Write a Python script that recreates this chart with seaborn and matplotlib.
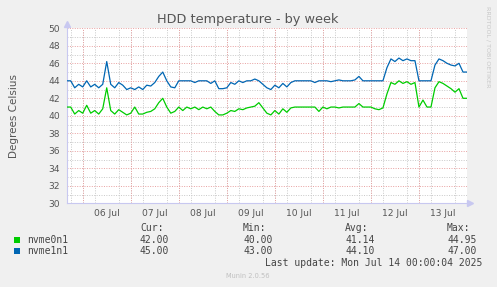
import numpy as np
import pandas as pd
import matplotlib
matplotlib.use("Agg")
import matplotlib.pyplot as plt
import matplotlib.dates as mdates
from matplotlib.patches import Rectangle
import seaborn as sns

# ---------------- data ----------------
series_names = ["nvme0n1", "nvme1n1"]
series_colors = ["#00CC00", "#0066B3"]

nvme0n1 = [41, 41, 40.2, 40.6, 40.3, 41.2, 40.3, 40.6, 40.2, 40.8,
           43.2, 40.6, 40.2, 40.7, 40.4, 40.1, 40.3, 41.0, 40.2, 40.2,
           40.4, 40.5, 40.8, 41.5, 42.0, 41.0, 40.3, 40.5, 41.0, 40.6,
           41.0, 40.8, 41.0, 40.7, 41.0, 40.8, 41.0, 40.5, 40.1, 40.1,
           40.3, 40.6, 40.5, 40.8, 40.7, 40.9, 41.0, 41.1, 41.5, 40.9,
           40.3, 40.1, 40.6, 40.2, 40.8, 40.4, 40.9, 41.0, 41.0, 41.0,
           41.0, 41.0, 41.0, 40.5, 41.0, 40.8, 41.0, 41.0, 40.9, 41.0,
           41.0, 41.0, 41.0, 41.4, 41.0, 41.0, 41.0, 40.8, 40.7, 40.9,
           42.5, 43.8, 43.6, 44.0, 43.7, 43.9, 43.6, 43.8, 41.0, 41.8,
           41.0, 41.0, 43.2, 43.9, 43.7, 43.4, 43.1, 42.7, 43.1, 42.0,
           42.0]
nvme1n1 = [44, 44, 43.2, 43.6, 43.3, 44.0, 43.3, 43.6, 43.2, 43.6,
           46.2, 43.6, 43.2, 43.8, 43.5, 43.0, 43.2, 43.0, 43.3, 43.0,
           43.5, 43.4, 43.8, 44.5, 45.0, 44.0, 43.3, 43.2, 44.0, 44.0,
           44.0, 44.0, 43.8, 44.0, 44.0, 44.0, 43.7, 44.0, 43.1, 43.1,
           43.2, 43.8, 43.6, 44.0, 43.8, 44.0, 44.0, 44.2, 44.0, 43.6,
           43.2, 43.0, 43.5, 43.2, 43.7, 43.3, 43.8, 44.0, 44.0, 44.0,
           44.0, 44.0, 43.8, 44.0, 44.0, 44.0, 43.9, 44.0, 44.1, 44.0,
           44.0, 44.0, 44.1, 44.5, 44.0, 44.0, 44.0, 44.0, 44.0, 44.0,
           45.5, 46.5, 46.2, 46.6, 46.3, 46.5, 46.3, 46.3, 44.0, 44.0,
           44.0, 44.0, 45.8, 46.5, 46.3, 46.0, 45.8, 45.7, 46.0, 45.0,
           45.0]
times = pd.date_range("2025-07-05 16:00", periods=len(nvme0n1), freq="2h")

legend_cur = ["42.00", "45.00"]
legend_min = ["40.00", "43.00"]
legend_avg = ["41.14", "44.10"]
legend_max = ["44.95", "47.00"]

title = "HDD temperature - by week"
ylabel = "Degrees Celsius"
last_update = "Last update: Mon Jul 14 00:00:04 2025"
version = "Munin 2.0.56"
side_text = "RRDTOOL / TOBI OETIKER"

df = pd.DataFrame({"time": list(times) * 2,
                   "value": nvme0n1 + nvme1n1,
                   "series": [series_names[0]] * len(times) + [series_names[1]] * len(times)})

# ---------------- figure ----------------
W, H = 497, 287
fig = plt.figure(figsize=(W / 100, H / 100), dpi=100, facecolor="#F0F0F0")
L, R, T, B = 66.7, 467.0, 28.3, 203.3
ax = fig.add_axes([L / W, 1 - B / H, (R - L) / W, (B - T) / H])
ax.set_facecolor("white")

sns.lineplot(data=df, x="time", y="value", hue="series", palette=series_colors,
             hue_order=series_names, linewidth=0.9, legend=False, ax=ax, zorder=5)
ax.set_xlabel("")
ax.set_ylabel("")

ax.set_xlim(pd.Timestamp("2025-07-05 16:00"), pd.Timestamp("2025-07-14 00:00"))
ax.set_ylim(30, 50)

txtc = "#555555"
gray_grid = dict(color="#C8C8C8", linestyle=(0, (1, 1.5)), linewidth=0.7)
red_grid = dict(color="#E8A0A0", linestyle=(0, (1, 1.5)), linewidth=0.7)

# y grid
ax.yaxis.set_major_locator(matplotlib.ticker.MultipleLocator(2))
ax.yaxis.set_minor_locator(matplotlib.ticker.MultipleLocator(1))
ax.grid(True, axis="y", which="minor", zorder=1, **gray_grid)
ax.grid(True, axis="y", which="major", zorder=2, **red_grid)

# x ticks: labels at noon, grid every 6h, red at midnight
ax.xaxis.set_major_locator(mdates.HourLocator(byhour=[12]))
ax.xaxis.set_major_formatter(mdates.DateFormatter("%d %b"))
ax.xaxis.set_minor_locator(mdates.HourLocator(byhour=[0, 6, 12, 18]))
ax.grid(True, axis="x", which="minor", zorder=1, **gray_grid)
for d in pd.date_range("2025-07-06", "2025-07-13", freq="D"):
    ax.axvline(d, zorder=2, **red_grid)

ax.tick_params(axis="both", which="both", length=0, colors=txtc, labelsize=6.6)
ax.tick_params(axis="y", pad=5)
ax.tick_params(axis="x", pad=4)
ax.set_axisbelow(True)

for s in ["top", "right"]:
    ax.spines[s].set_visible(False)
for s in ["left", "bottom"]:
    ax.spines[s].set_color("#C8C8F0")
    ax.spines[s].set_linewidth(0.8)

# axis arrows
ax.plot([0], [1.025], marker="^", color="#C8C8F0", markersize=4, transform=ax.transAxes, clip_on=False)
ax.plot([1.008], [0], marker=">", color="#C8C8F0", markersize=4, transform=ax.transAxes, clip_on=False)

# texts
fig.text(248 / W, 1 - 19 / H, title, ha="center", va="center", fontsize=9.3, color=txtc)
fig.text(14 / W, 1 - 116 / H, ylabel, ha="center", va="center", rotation=90, fontsize=7.5, color=txtc)
fig.text(488 / W, 1 - 6 / H, side_text, ha="center", va="top", rotation=270, fontsize=4.6, color="#C8C8C8")

mono = dict(family="DejaVu Sans Mono", fontsize=7.0, color="#444444", va="center")
cols_x = [140, 243, 345, 447]
headers = ["Cur:", "Min:", "Avg:", "Max:"]
row_y = [228, 239.7, 251.3]
for cx, h in zip(cols_x, headers):
    fig.text(cx / W, 1 - row_y[0] / H, h, ha="left", **mono)
for i, name in enumerate(series_names):
    y = row_y[i + 1]
    fig.patches.append(Rectangle((14 / W, 1 - (y + 3) / H), 6 / W, 6 / H,
                                 transform=fig.transFigure, facecolor=series_colors[i],
                                 edgecolor="none"))
    fig.text(27 / W, 1 - y / H, name, ha="left", **mono)
    for cx, v in zip(cols_x, [legend_cur[i], legend_min[i], legend_avg[i], legend_max[i]]):
        fig.text(cx / W, 1 - y / H, v, ha="left", **mono)
fig.text(482 / W, 1 - 263 / H, last_update, ha="right", **mono)
fig.text(248 / W, 1 - 276 / H, version, ha="center", va="center", fontsize=4.8, color="#C0C0C0")

fig.savefig("out.png", dpi=100, facecolor=fig.get_facecolor())
